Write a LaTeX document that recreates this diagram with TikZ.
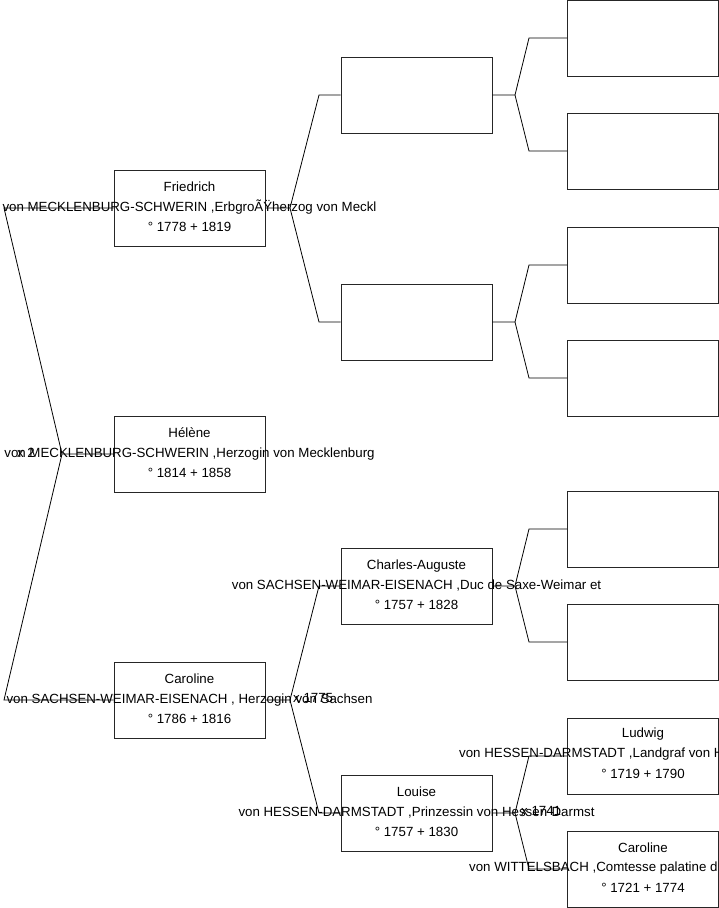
\documentclass[tikz,border=0pt]{standalone}
\usepackage{fontspec}
\setmainfont{Liberation Sans}
\begin{document}
\begin{tikzpicture}[x=1pt,y=-1pt,
  pbox/.style={draw=black!85, line width=0.8pt, rectangle, inner sep=0pt, minimum width=151pt, minimum height=76pt},
  ptxt/.style={align=center, inner sep=0pt, font=\fontsize{13.3}{20}\selectfont},
  pline/.style={inner sep=0pt, font=\fontsize{13.3}{15}\selectfont},
  conn/.style={draw=black, line width=0.8pt}]
\useasboundingbox (0,0) rectangle (719,908);
\clip (0,0) rectangle (719,908);
% boxes
\node[pbox] (fr)  at (189.5,208) {};
\node[pbox] (hel) at (189.5,454) {};
\node[pbox] (car) at (189.5,700) {};
\node[pbox] (b1)  at (416.5,95) {};
\node[pbox] (b2)  at (416.5,322) {};
\node[pbox] (ca)  at (416.5,586) {};
\node[pbox] (lou) at (416.5,813) {};
\node[pbox] (g1)  at (643,38) {};
\node[pbox] (g2)  at (643,151) {};
\node[pbox] (g3)  at (643,265) {};
\node[pbox] (g4)  at (643,378) {};
\node[pbox] (g5)  at (643,529) {};
\node[pbox] (g6)  at (643,642) {};
\node[pbox] (lud) at (643,756) {};
\node[pbox] (car2) at (643,869) {};
% connector points
\coordinate (r0) at (62,454);
\coordinate (r0a) at (4,208);
\coordinate (r0b) at (4,700);
\coordinate (f0) at (290,208);
\coordinate (f0a) at (319,95);
\coordinate (f0b) at (319,322);
\coordinate (c0) at (290,700);
\coordinate (c0a) at (319,586);
\coordinate (c0b) at (319,813);
\coordinate (p1) at (515,95);
\coordinate (p1a) at (529,38);
\coordinate (p1b) at (529,151);
\coordinate (p2) at (515,322);
\coordinate (p2a) at (529,265);
\coordinate (p2b) at (529,378);
\coordinate (p3) at (515,586);
\coordinate (p3a) at (529,529);
\coordinate (p3b) at (529,642);
\coordinate (p4) at (515,813);
\coordinate (p4a) at (529,756);
\coordinate (p4b) at (529,869);
% connectors
\draw[conn] (hel.west) -- (r0) -- (r0a) -- (fr.west);
\draw[conn] (r0) -- (r0b) -- (car.west);
\draw[conn] (fr.east) -- (f0) -- (f0a) -- (b1.west);
\draw[conn] (f0) -- (f0b) -- (b2.west);
\draw[conn] (car.east) -- (c0) -- (c0a) -- (ca.west);
\draw[conn] (c0) -- (c0b) -- (lou.west);
\draw[conn] (b1.east) -- (p1) -- (p1a) -- (g1.west);
\draw[conn] (p1) -- (p1b) -- (g2.west);
\draw[conn] (b2.east) -- (p2) -- (p2a) -- (g3.west);
\draw[conn] (p2) -- (p2b) -- (g4.west);
\draw[conn] (ca.east) -- (p3) -- (p3a) -- (g5.west);
\draw[conn] (p3) -- (p3b) -- (g6.west);
\draw[conn] (lou.east) -- (p4) -- (p4a) -- (lud.west);
\draw[conn] (p4) -- (p4b) -- (car2.west);
% texts
\node[ptxt, yshift=1pt] (tfr) at (fr) {Friedrich\\von MECKLENBURG-SCHWERIN ,ErbgroÃŸherzog von Meckl\\° 1778 + 1819};
\node[ptxt, yshift=1pt] (thel) at (hel) {Hélène\\von MECKLENBURG-SCHWERIN ,Herzogin von Mecklenburg\\° 1814 + 1858};
\node[ptxt, yshift=1pt] (tcar) at (car) {Caroline\\von SACHSEN-WEIMAR-EISENACH , Herzogin von Sachsen\\° 1786 + 1816};
\node[ptxt, yshift=1pt] (tca) at (ca) {Charles-Auguste\\von SACHSEN-WEIMAR-EISENACH ,Duc de Saxe-Weimar et\\° 1757 + 1828};
\node[ptxt, yshift=1pt] (tlou) at (lou) {Louise\\von HESSEN-DARMSTADT ,Prinzessin von Hessen-Darmst\\° 1757 + 1830};
\node[pline] (tlud1) at (643,734) {Ludwig};
\node[pline, anchor=west] (tlud2) at (459,754) {von HESSEN-DARMSTADT ,Landgraf von H};
\node[pline] (tlud3) at (643,774) {° 1719 + 1790};
\node[pline] (tcb1) at (643,848) {Caroline};
\node[pline, anchor=west] (tcb2) at (469,868) {von WITTELSBACH ,Comtesse palatine d};
\node[pline] (tcb3) at (643,888) {° 1721 + 1774};
% marriage labels
\node[pline] (m0) at (26,453) {x 2};
\node[pline, anchor=west] (m1) at (293,698) {x 1775};
\node[pline, anchor=west] (m2) at (521,811) {x 1741};
\end{tikzpicture}
\end{document}
